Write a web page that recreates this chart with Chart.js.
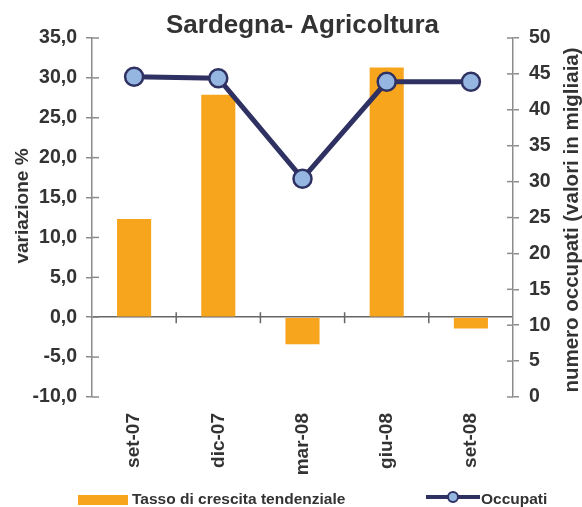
<!DOCTYPE html>
<html>
<head>
<meta charset="utf-8">
<script src="https://cdn.jsdelivr.net/npm/chart.js@4.4.1/dist/chart.umd.min.js"></script>
<style>
  html, body { margin: 0; padding: 0; background: #fff; }
  #wrap { width: 582px; height: 507px; position: relative; }
</style>
</head>
<body>
<div id="wrap"><canvas id="chart-sardegna"></canvas></div>
<script>
const periodi = ['set-07', 'dic-07', 'mar-08', 'giu-08', 'set-08'];
const tassoCrescita = [12.3, 27.9, -3.4, 31.3, -1.4];
const occupati = [44.6, 44.4, 30.4, 43.9, 43.9];
const tickSinistra = [-10, -5, 0, 5, 10, 15, 20, 25, 30, 35];
const tickDestra = [0, 5, 10, 15, 20, 25, 30, 35, 40, 45, 50];

const FONT = "'Liberation Sans', Arial, Helvetica, sans-serif";
const TESTO = '#333333';
const ARANCIO = '#F7A51C';
const BLU = '#2E3161';
const AZZURRO = '#94B6E0';
const ASSE = '#8c8c8c';

// titolo, titoli degli assi e legenda disegnati a mano
const decorazioni = {
    id: 'decorazioni',
    afterDraw(chart) {
        const ctx = chart.ctx;
        const area = chart.chartArea;
        ctx.save();
        ctx.fillStyle = TESTO;

        ctx.font = 'bold 26px ' + FONT;
        ctx.textAlign = 'center';
        ctx.textBaseline = 'alphabetic';
        ctx.fillText('Sardegna- Agricoltura', (area.left + area.right) / 2, 33);

        ctx.font = 'bold 19px ' + FONT;
        ctx.textBaseline = 'middle';
        ctx.save();
        ctx.translate(23, 206);
        ctx.rotate(-Math.PI / 2);
        ctx.fillText('variazione %', 0, 0);
        ctx.restore();
        ctx.font = 'bold 20.5px ' + FONT;
        ctx.save();
        ctx.translate(572, 220);
        ctx.rotate(-Math.PI / 2);
        ctx.fillText('numero occupati (valori in migliaia)', 0, 0);
        ctx.restore();

        // tacche interne degli assi verticali
        ctx.strokeStyle = ASSE;
        ctx.lineWidth = 1.5;
        const y = chart.scales.y, y1 = chart.scales.y1;
        y.ticks.forEach(t => {
            const py = y.getPixelForValue(t.value);
            ctx.beginPath(); ctx.moveTo(area.left, py); ctx.lineTo(area.left + 7, py); ctx.stroke();
        });
        y1.ticks.forEach(t => {
            const py = y1.getPixelForValue(t.value);
            ctx.beginPath(); ctx.moveTo(area.right - 6, py); ctx.lineTo(area.right, py); ctx.stroke();
        });
        // tacche sulla linea dello zero
        const x = chart.scales.x;
        const y0 = y.getPixelForValue(0);
        ctx.strokeStyle = '#666';
        for (let i = 1; i < periodi.length; i++) {
            const px = (x.getPixelForValue(i - 1) + x.getPixelForValue(i)) / 2;
            ctx.beginPath(); ctx.moveTo(px, y0 - 5); ctx.lineTo(px, y0 + 6); ctx.stroke();
        }

        // legenda
        ctx.textAlign = 'left';
        ctx.font = 'bold 15.5px ' + FONT;
        ctx.fillStyle = ARANCIO;
        ctx.fillRect(78, 495, 50, 10);
        ctx.fillStyle = TESTO;
        ctx.fillText('Tasso di crescita tendenziale', 132, 500);

        ctx.strokeStyle = BLU;
        ctx.lineWidth = 4;
        ctx.beginPath(); ctx.moveTo(426, 497); ctx.lineTo(480, 497); ctx.stroke();
        ctx.beginPath(); ctx.arc(453, 497, 5, 0, Math.PI * 2);
        ctx.fillStyle = AZZURRO; ctx.fill();
        ctx.lineWidth = 2; ctx.stroke();
        ctx.fillStyle = TESTO;
        ctx.fillText('Occupati', 481, 500);
        ctx.restore();
    }
};

document.addEventListener('DOMContentLoaded', function() {
    new Chart(document.getElementById('chart-sardegna'), {
        type: 'bar',
        data: {
            labels: periodi,
            datasets: [{
                type: 'line',
                label: 'Occupati',
                data: occupati,
                yAxisID: 'y1',
                borderColor: BLU,
                borderWidth: 5,
                pointRadius: 9,
                pointBorderWidth: 2.5,
                pointBackgroundColor: AZZURRO,
                pointBorderColor: BLU,
                tension: 0,
                order: 0
            }, {
                type: 'bar',
                label: 'Tasso di crescita tendenziale',
                data: tassoCrescita,
                yAxisID: 'y',
                backgroundColor: ARANCIO,
                borderWidth: 0,
                barPercentage: 0.405,
                categoryPercentage: 1,
                order: 1
            }]
        },
        options: {
            responsive: true,
            maintainAspectRatio: false,
            animation: false,
            layout: { padding: { top: 38, left: 0, right: 0, bottom: 0 } },
            plugins: {
                legend: { display: false },
                title: { display: false },
                tooltip: { enabled: false }
            },
            scales: {
                x: {
                    offset: true,
                    grid: { display: false, drawTicks: false },
                    border: { display: false },
                    ticks: {
                        minRotation: 90,
                        maxRotation: 90,
                        padding: 16,
                        color: TESTO,
                        font: { family: FONT, size: 19, weight: 'bold' }
                    },
                    afterFit(scale) { scale.height = 110; }
                },
                y: {
                    position: 'left',
                    min: -10,
                    max: 35,
                    afterBuildTicks(scale) { scale.ticks = tickSinistra.map(v => ({ value: v })); },
                    grid: {
                        drawOnChartArea: true,
                        color: ctx => (ctx.tick && ctx.tick.value === 0) ? '#666' : 'rgba(0,0,0,0)',
                        tickColor: ASSE,
                        tickLength: 6,
                        lineWidth: 1.5
                    },
                    border: { color: ASSE, width: 1.5 },
                    ticks: {
                        padding: 9,
                        color: TESTO,
                        font: { family: FONT, size: 19.5, weight: 'bold' },
                        callback: v => v.toFixed(1).replace('.', ',')
                    },
                    afterFit(scale) { scale.width = 92; }
                },
                y1: {
                    position: 'right',
                    min: 0,
                    max: 50,
                    afterBuildTicks(scale) { scale.ticks = tickDestra.map(v => ({ value: v })); },
                    grid: { drawOnChartArea: false, tickColor: ASSE, tickLength: 6, lineWidth: 1.5 },
                    border: { color: ASSE, width: 1.5 },
                    ticks: {
                        padding: 10,
                        color: TESTO,
                        font: { family: FONT, size: 19.5, weight: 'bold' }
                    },
                    afterFit(scale) { scale.width = 69; }
                }
            }
        },
        plugins: [decorazioni]
    });
});
</script>
</body>
</html>
